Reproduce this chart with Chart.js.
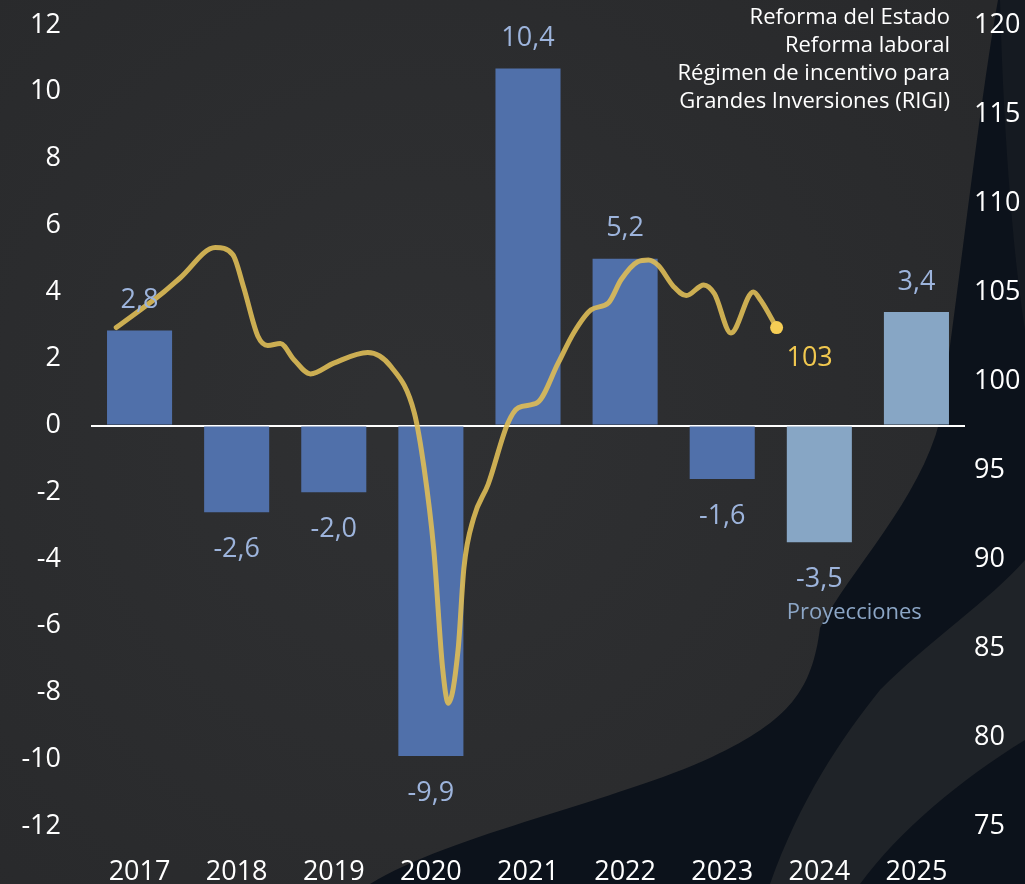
<!DOCTYPE html>
<html>
<head>
<meta charset="utf-8">
<script src="https://cdn.jsdelivr.net/npm/chart.js@4"></script>
<style>
  html, body { margin: 0; padding: 0; background: #2b2c2e; }
  canvas { display: block; }
</style>
</head>
<body>
<canvas id="chart" width="1025" height="884"></canvas>
<script>
// years on the category axis
const years = ['2017', '2018', '2019', '2020', '2021', '2022', '2023', '2024', '2025'];
// GDP growth bars (% y/y), heights as drawn, labels as printed
const growth = [2.85, -2.6, -2.0, -9.9, 10.7, 5.0, -1.6, -3.5, 3.4];
const growthLabels = ['2,8', '-2,6', '-2,0', '-9,9', '10,4', '5,2', '-1,6', '-3,5', '3,4'];
const projected = [false, false, false, false, false, false, false, true, true];

// activity index (right axis); x is position in years from the 2017 bar centre
const indexX = [-0.24, 0.25, 0.42, 0.78, 0.96, 1.07, 1.22, 1.32, 1.45, 1.59, 1.76, 2.0, 2.35, 2.59, 2.83,
  2.93, 3.03, 3.12, 3.18, 3.28, 3.34, 3.44, 3.59, 3.79, 3.9, 4.1, 4.31, 4.47, 4.65, 4.83, 4.96,
  5.13, 5.24, 5.34, 5.5, 5.63, 5.81, 5.92, 6.09, 6.32, 6.4, 6.56];
const indexY = [103.0, 105.0, 105.8, 107.5, 107.1, 105.3, 102.5, 102.0, 102.1, 101.2, 100.4, 101.0, 101.6, 100.8, 98.2,
  95.1, 90.5, 83.9, 81.9, 84.9, 89.5, 92.3, 94.2, 97.6, 98.5, 98.8, 101.0, 102.7, 104.0, 104.4, 105.7,
  106.7, 106.8, 106.5, 105.3, 104.8, 105.4, 104.9, 102.7, 105.0, 104.5, 103.0];
const indexLastLabel = '103';

const notes = ['Reforma del Estado', 'Reforma laboral', 'Régimen de incentivo para', 'Grandes Inversiones (RIGI)'];

Chart.defaults.font.family = "'Open Sans', 'Noto Sans', sans-serif";
Chart.defaults.color = '#ffffff';

const background = {
  id: 'background',
  beforeDraw(chart) {
    const c = chart.ctx;
    c.save();
    const g = c.createRadialGradient(420, 420, 50, 420, 420, 700);
    g.addColorStop(0, '#2f3032');
    g.addColorStop(1, '#28292b');
    c.fillStyle = g;
    c.fillRect(0, 0, chart.width, chart.height);
    // dark navy sweep on the right
    c.fillStyle = '#0c121b';
    c.beginPath();
    c.moveTo(998, 0);
    c.lineTo(1025, 0);
    c.lineTo(1025, 884);
    c.lineTo(370, 884);
    c.bezierCurveTo(450, 835, 620, 800, 712, 757);
    c.bezierCurveTo(790, 720, 812, 690, 820, 628);
    c.bezierCurveTo(850, 570, 920, 500, 940, 420);
    c.bezierCurveTo(960, 280, 980, 100, 998, 0);
    c.closePath();
    c.fill();
    // lighter band inside the sweep
    c.fillStyle = '#1f2328';
    c.beginPath();
    c.moveTo(1025, 560);
    c.bezierCurveTo(990, 600, 930, 640, 880, 690);
    c.bezierCurveTo(840, 740, 800, 800, 770, 884);
    c.lineTo(860, 884);
    c.bezierCurveTo(900, 830, 960, 780, 1025, 740);
    c.closePath();
    c.fill();
    c.fillStyle = '#151a21';
    c.beginPath();
    c.moveTo(1000, 0);
    c.lineTo(1025, 0);
    c.lineTo(1025, 330);
    c.bezierCurveTo(1012, 250, 1003, 120, 1000, 0);
    c.closePath();
    c.fill();
    c.restore();
  }
};

const annotations = {
  id: 'annotations',
  afterDatasetsDraw(chart) {
    const c = chart.ctx;
    const bars = chart.getDatasetMeta(1).data;
    c.save();
    c.textAlign = 'center';
    c.textBaseline = 'middle';
    c.font = "27px 'Open Sans'";
    c.fillStyle = '#9db4dc';
    bars.forEach((bar, i) => {
      const y = growth[i] >= 0 ? bar.y - 30 : bar.y + 37;
      c.fillText(growthLabels[i], bar.x, y);
    });
    // end value of the index line
    const pts = chart.getDatasetMeta(0).data;
    const last = pts[pts.length - 1];
    c.fillStyle = '#f1c84f';
    c.fillText(indexLastLabel, last.x + 33, last.y + 31);
    // projections note
    const x2 = chart.scales.x2, y = chart.scales.y;
    c.font = "22px 'Open Sans'";
    c.fillStyle = '#8ca6c6';
    c.fillText('Proyecciones', x2.getPixelForValue(7.36), y.getPixelForValue(-5.6));
    // reforms note, top right
    c.textAlign = 'right';
    c.font = "22px 'Open Sans'";
    c.fillStyle = '#ffffff';
    notes.forEach((t, i) => c.fillText(t, chart.chartArea.right - 15, 18 + i * 28));
    c.restore();
  }
};

new Chart(document.getElementById('chart'), {
  type: 'bar',
  data: {
    labels: years,
    datasets: [
      {
        type: 'line',
        label: 'Índice',
        data: indexX.map((x, i) => ({ x: x, y: indexY[i] })),
        xAxisID: 'x2',
        yAxisID: 'y2',
        borderColor: 'rgba(222, 188, 86, 0.9)',
        backgroundColor: '#f5cd55',
        borderWidth: 5,
        borderCapStyle: 'round',
        cubicInterpolationMode: 'monotone',
        pointRadius: ctx => ctx.dataIndex === indexX.length - 1 ? 6.5 : 0,
        pointBorderWidth: 0,
        pointBackgroundColor: '#f5cd55',
        order: 0
      },
      {
        label: 'PIB',
        data: growth,
        xAxisID: 'x',
        yAxisID: 'y',
        grouped: false,
        backgroundColor: projected.map(p => p ? '#87a6c5' : '#5070aa'),
        categoryPercentage: 1,
        barPercentage: 0.67,
        order: 1
      }
    ]
  },
  options: {
    responsive: false,
    animation: false,
    layout: { padding: { top: 25, bottom: 0, left: 0, right: 0 } },
    plugins: { legend: { display: false }, tooltip: { enabled: false } },
    scales: {
      x: {
        grid: { display: false },
        border: { display: false },
        ticks: { color: '#ffffff', font: { size: 27 }, padding: 22 },
        afterFit: s => { s.height = 58; }
      },
      x2: {
        type: 'linear',
        min: -0.5,
        max: 8.5,
        offset: false,
        grid: { offset: false },
        display: false
      },
      y: {
        position: 'left',
        min: -12,
        max: 12,
        ticks: { stepSize: 2, color: '#ffffff', font: { size: 27 }, padding: 30 },
        grid: {
          drawTicks: false,
          lineWidth: 2,
          color: ctx => ctx.tick && ctx.tick.value === 0 ? '#ffffff' : 'rgba(0,0,0,0)'
        },
        border: { display: false },
        afterFit: s => { s.width = 91; s.paddingTop = 0; s.paddingBottom = 0; }
      },
      y2: {
        position: 'right',
        min: 75,
        max: 120,
        ticks: { stepSize: 5, color: '#ffffff', font: { size: 27 }, padding: 9 },
        grid: { display: false, drawTicks: false },
        border: { display: false },
        afterFit: s => { s.width = 60; s.paddingTop = 0; s.paddingBottom = 0; }
      }
    }
  },
  plugins: [background, annotations]
});
</script>
</body>
</html>
